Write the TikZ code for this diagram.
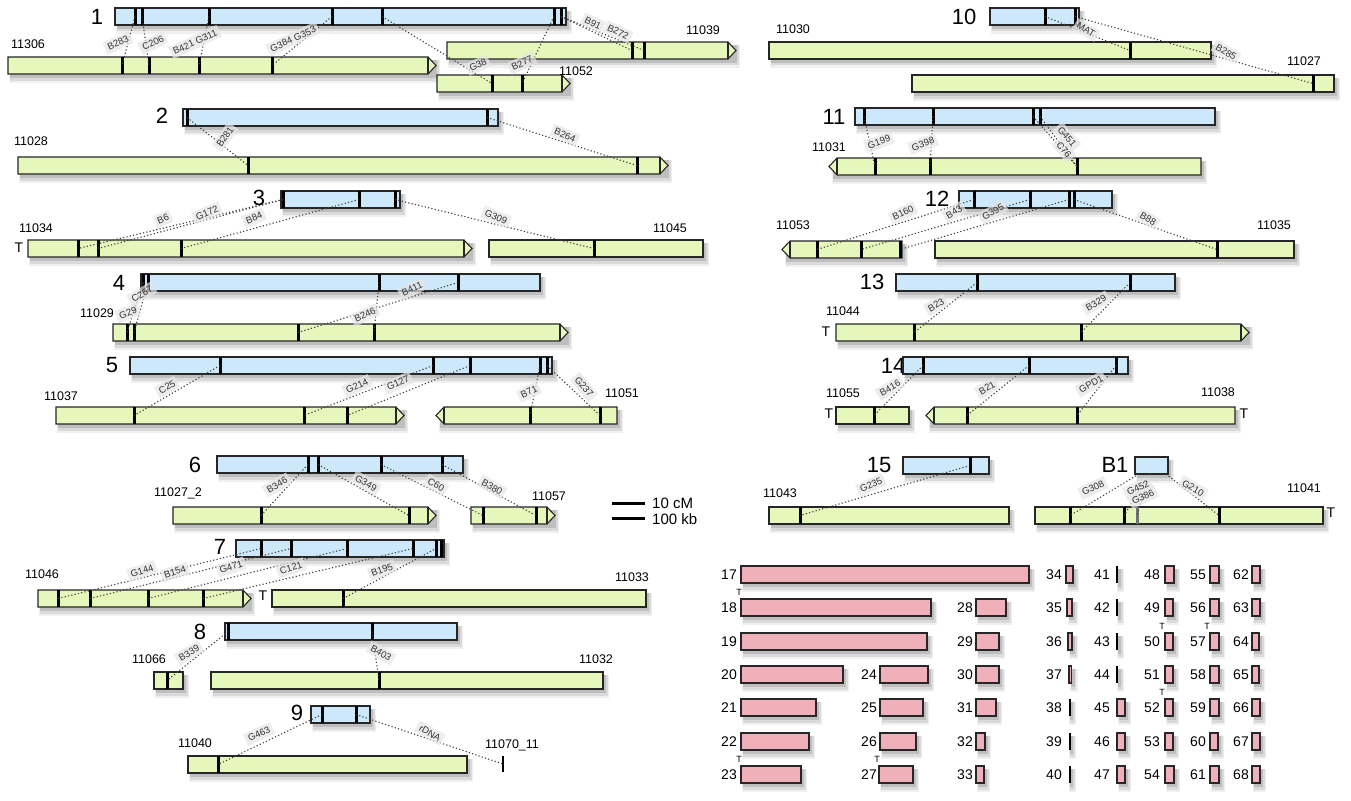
\documentclass[tikz,border=0pt]{standalone}
\usepackage{fontspec}
\setmainfont{Liberation Sans}
\definecolor{bfill}{RGB}{204,232,250}
\definecolor{gfill}{RGB}{230,247,188}
\definecolor{pfill}{RGB}{240,176,186}
\tikzset{
  sh1/.style={fill=black,opacity=0.06},
  sh2/.style={fill=black,opacity=0.09},
  sh3/.style={fill=black,opacity=0.13},
  bbar/.style={fill=bfill,draw=black!85,line width=1.1pt},
  gbar/.style={fill=gfill,draw=black!85,line width=1.1pt},
  pbar/.style={fill=pfill,draw=black!85,line width=1.1pt},
  edgeln/.style={draw=black!85,line width=1.1pt},
  mkln/.style={line width=3pt,black},
  thinln/.style={line width=2pt,black},
  conn/.style={line width=1.1pt,black!75,dash pattern=on 1.2pt off 2.2pt},
  mlab/.style={font=\fontsize{9.5}{10}\selectfont,text=black!80,fill=black!10,fill opacity=0.7,text opacity=1,inner sep=3pt},
  clab/.style={font=\fontsize{12.5}{12.5}\selectfont,inner sep=0pt},
  gnum/.style={font=\fontsize{22}{22}\selectfont,inner sep=0pt},
  tlab/.style={font=\fontsize{14}{14}\selectfont,inner sep=0pt},
  plab/.style={font=\fontsize{14}{14}\selectfont,anchor=east,inner sep=0pt},
  ptl/.style={font=\fontsize{9}{9}\selectfont,inner sep=0pt},
  sclab/.style={font=\fontsize{15}{15}\selectfont,anchor=west,inner sep=0pt},
  scln/.style={line width=3pt,black},
}
% soft shadow: x1, x2, ytop
\newcommand\shdw[3]{%
  \fill[sh1] (#1+1,#3+3) rectangle (#2+6,#3+26);
  \fill[sh2] (#1+2,#3+3) rectangle (#2+4.5,#3+23.5);
  \fill[sh3] (#1+2,#3+3) rectangle (#2+3,#3+21);}
\newcommand\rbar[4]{\shdw{#2}{#3}{#4}\path[#1] (#2,#4) rectangle (#3,#4+17);}
\newcommand\rtip{\rtipx}
\newcommand\rtipx[4]{\shdw{#2}{#3+6}{#4}\path[#1] (#2,#4) -- (#3,#4) -- (#3+8,#4+8.5) -- (#3,#4+17) -- (#2,#4+17) -- cycle; \draw[edgeln] (#3,#4) -- (#3,#4+17);}
\newcommand\ltip[4]{\shdw{#2-6}{#3}{#4}\path[#1] (#3,#4) -- (#2,#4) -- (#2-8,#4+8.5) -- (#2,#4+17) -- (#3,#4+17) -- cycle; \draw[edgeln] (#2,#4) -- (#2,#4+17);}
\newcommand\mk[3]{\coordinate (#1) at (#2,#3+8.5); \draw[mkln] (#2,#3) -- (#2,#3+17);}
\newcommand\ml[5]{\node[mlab,rotate=#4] (#1) at (#2,#3) {#5};}
\newcommand\pbr[6]{\rbar{pbar}{#3}{#4}{#5}\node[plab] (#1) at (#6,#5+8.5) {#2};}

\begin{document}
\begin{tikzpicture}[x=1pt,y=-1pt]
\useasboundingbox (0,0) rectangle (1351,800);

% ---------------- Group 1
\node[gnum] (n1) at (97,17) {1};
\rbar{bbar}{115}{566}{8}
\rtip{gbar}{8}{428}{57}
\rtip{gbar}{447}{728}{42}
\rtip{gbar}{437}{562}{75}
\mk{a1}{135}{8}\mk{a2}{142}{8}\mk{a3}{209}{8}\mk{a4}{332}{8}\mk{a5}{382}{8}\mk{a6}{554}{8}\mk{a7}{561}{8}
\mk{ga1}{122}{57}\mk{ga2}{149}{57}\mk{ga3}{199}{57}\mk{ga4}{272}{57}
\mk{ha1}{632}{42}\mk{ha2}{644}{42}
\mk{ka1}{492}{75}\mk{ka2}{522}{75}
\draw[conn] (a1) -- (ga1);
\draw[conn] (a2) -- (ga2);
\draw[conn] (a3) -- (ga3);
\draw[conn] (a4) -- (ga4);
\draw[conn] (a5) -- (ka1);
\draw[conn] (a6) -- (ka2);
\draw[conn] (a7) -- (ha1);
\draw[conn] (a7) -- (ha2);
\ml{lB283}{118}{43}{25}{B283}
\ml{lC206}{153}{43}{25}{C206}
\ml{lB421}{195}{42}{25}{B421 G311}
\ml{lG384}{293}{39}{25}{G384 G353}
\ml{lG38}{478}{65}{25}{G38}
\ml{lB277}{522}{63}{25}{B277}
\ml{lB91}{593}{23}{-25}{B91}
\ml{lB272}{618}{32}{-25}{B272}
\node[clab] (c11306) at (28,44) {11306};
\node[clab] (c11039) at (703,30) {11039};
\node[clab] (c11052) at (576,71) {11052};

% ---------------- Group 2
\node[gnum] (n2) at (162,116) {2};
\rbar{bbar}{183}{498}{109}
\rtip{gbar}{18}{660}{157}
\mk{b1}{187}{109}\mk{b2}{487}{109}
\mk{c1}{248}{157}\mk{c2}{637}{157}
\draw[conn] (b1) -- (c1);
\draw[conn] (b2) -- (c2);
\ml{lB281}{225}{137}{55}{B281}
\ml{lB264}{565}{135}{-23}{B264}
\node[clab] (c11028) at (31,141) {11028};

% ---------------- Group 3
\node[gnum] (n3) at (259,198) {3};
\rbar{bbar}{281}{400}{191}
\rtip{gbar}{28}{464}{240}
\rbar{gbar}{489}{703}{240}
\mk{d0}{283}{191}\mk{d1}{359}{191}\mk{d2}{395}{191}
\mk{e1}{78}{240}\mk{e2}{98}{240}\mk{e3}{181}{240}
\mk{f1}{594}{240}
\draw[conn] (d0) -- (e1);
\draw[conn] (d0) -- (e2);
\draw[conn] (d1) -- (e3);
\draw[conn] (d2) -- (f1);
\ml{lB6}{163}{219}{23}{B6}
\ml{lG172}{207}{213}{23}{G172}
\ml{lB84}{254}{218}{23}{B84}
\ml{lG309}{496}{217}{-23}{G309}
\node[clab] (c11034) at (36,228) {11034};
\node[tlab] (t3) at (19,248) {T};
\node[clab] (c11045) at (670,228) {11045};

% ---------------- Group 4
\node[gnum] (n4) at (119,283) {4};
\rbar{bbar}{141}{540}{274}
\rtip{gbar}{113}{560}{324}
\mk{p1}{143}{274}\mk{p2}{148}{274}\mk{p3}{379}{274}\mk{p4}{458}{274}
\mk{q1}{127}{324}\mk{q2}{134}{324}\mk{q3}{298}{324}\mk{q4}{374}{324}
\draw[conn] (p1) -- (q1);
\draw[conn] (p2) -- (q2);
\draw[conn] (p4) -- (q3);
\draw[conn] (p3) -- (q4);
\ml{lG29}{128}{313}{20}{G29}
\ml{lC267}{142}{294}{30}{C267}
\ml{lB411}{412}{289}{25}{B411}
\ml{lB246}{365}{315}{25}{B246}
\node[clab] (c11029) at (97,313) {11029};

% ---------------- Group 5
\node[gnum] (n5) at (112,365) {5};
\rbar{bbar}{130}{552}{357}
\rtip{gbar}{56}{396}{407}
\ltip{gbar}{444}{617}{407}
\mk{r1}{220}{357}\mk{r2}{433}{357}\mk{r3}{470}{357}\mk{r4}{540}{357}\mk{r5}{547}{357}
\mk{s1}{134}{407}\mk{s2}{304}{407}\mk{s3}{347}{407}
\mk{t1}{530}{407}\mk{t2}{600}{407}
\draw[conn] (r1) -- (s1);
\draw[conn] (r2) -- (s2);
\draw[conn] (r3) -- (s3);
\draw[conn] (r4) -- (t1);
\draw[conn] (r5) -- (t2);
\ml{lC25}{167}{387}{30}{C25}
\ml{lG214}{357}{386}{25}{G214}
\ml{lG127}{398}{383}{25}{G127}
\ml{lB71}{529}{392}{25}{B71}
\ml{lG237}{584}{387}{-50}{G237}
\node[clab] (c11037) at (61,396) {11037};
\node[clab] (c11051) at (622,393) {11051};

% ---------------- Group 6
\node[gnum] (n6) at (195,465) {6};
\rbar{bbar}{217}{463}{456}
\rtip{gbar}{173}{428}{507}
\rtip{gbar}{471}{547}{507}
\mk{u1}{308}{456}\mk{u2}{318}{456}\mk{u3}{381}{456}\mk{u4}{442}{456}
\mk{v1}{261}{507}\mk{v2}{409}{507}
\mk{w1}{483}{507}\mk{w2}{536}{507}
\draw[conn] (u1) -- (v1);
\draw[conn] (u2) -- (v2);
\draw[conn] (u3) -- (w1);
\draw[conn] (u4) -- (w2);
\ml{lB346}{277}{485}{30}{B346}
\ml{lG349}{366}{483}{-30}{G349}
\ml{lC60}{436}{485}{-30}{C60}
\ml{lB380}{492}{487}{-30}{B380}
\node[clab] (c11027b) at (178,493) {11027\_2};
\node[clab] (c11057) at (549,496) {11057};

% scale bar
\coordinate (sa1) at (612,503); \coordinate (sa2) at (645,503);
\coordinate (sb1) at (612,518); \coordinate (sb2) at (645,518);
\draw[scln] (sa1) -- (sa2);
\draw[scln] (sb1) -- (sb2);
\node[sclab] (s10) at (652,503) {10 cM};
\node[sclab] (s100) at (652,519) {100 kb};

% ---------------- Group 7
\node[gnum] (n7) at (220,547) {7};
\rbar{bbar}{236}{444}{540}
\rtip{gbar}{38}{243}{590}
\rbar{gbar}{272}{646}{590}
\mk{x1}{261}{540}\mk{x2}{291}{540}\mk{x3}{347}{540}\mk{x4}{413}{540}\mk{x5}{436}{540}\mk{x6}{441}{540}
\mk{y1}{58}{590}\mk{y2}{90}{590}\mk{y3}{148}{590}\mk{y4}{203}{590}
\mk{z1}{343}{590}
\draw[conn] (y1) -- (x1);
\draw[conn] (y2) -- (x2);
\draw[conn] (y3) -- (x3);
\draw[conn] (y4) -- (x4);
\draw[conn] (z1) -- (x5);
\ml{lG144}{142}{571}{18}{G144}
\ml{lB154}{175}{572}{18}{B154}
\ml{lG471}{231}{567}{18}{G471}
\ml{lC121}{291}{568}{18}{C121}
\ml{lB195}{382}{570}{20}{B195}
\node[clab] (c11046) at (42,574) {11046};
\node[tlab] (t7) at (263,596) {T};
\node[clab] (c11033) at (632,577) {11033};

% ---------------- Group 8
\node[gnum] (n8) at (200,632) {8};
\rbar{bbar}{225}{457}{623}
\rbar{gbar}{154}{183}{672}
\rbar{gbar}{211}{603}{672}
\mk{A1}{228}{623}\mk{A2}{372}{623}
\mk{B1}{167}{672}
\mk{C1}{379}{672}
\draw[conn] (A1) -- (B1);
\draw[conn] (A2) -- (C1);
\ml{lB339}{189}{653}{30}{B339}
\ml{lB403}{381}{653}{-30}{B403}
\node[clab] (c11066) at (149,659) {11066};
\node[clab] (c11032) at (596,659) {11032};

% ---------------- Group 9
\node[gnum] (n9) at (297,713) {9};
\rbar{bbar}{311}{370}{706}
\rbar{gbar}{188}{467}{756}
\mk{D1}{322}{706}\mk{D2}{356}{706}
\mk{E1}{218}{756}
\coordinate (E2) at (503,764);
\draw[line width=1.2pt,black] (503,756) -- (503,772);
\draw[conn] (D1) -- (E1);
\draw[conn] (D2) -- (E2);
\ml{lG463}{259}{734}{25}{G463}
\ml{lrDNA}{430}{733}{-30}{rDNA}
\node[clab] (c11040) at (195,743) {11040};
\node[clab] (c11070) at (512,745) {11070\_11};

% ---------------- Group 10
\node[gnum] (n10) at (964,17) {10};
\rbar{bbar}{990}{1079}{8}
\rbar{gbar}{769}{1211}{42}
\rbar{gbar}{912}{1334}{75}
\mk{F1}{1045}{8}\mk{F2}{1075}{8}
\mk{G1}{1130}{42}
\mk{H1}{1313}{75}
\draw[conn] (F1) -- (G1);
\draw[conn] (F2) -- (H1);
\ml{lMAT}{1086}{30}{-30}{MAT}
\ml{lB285}{1226}{52}{-30}{B285}
\node[clab] (c11030) at (793,29) {11030};
\node[clab] (c11027) at (1304,61) {11027};

% ---------------- Group 11
\node[gnum] (n11) at (834,117) {11};
\rbar{bbar}{855}{1215}{108}
\ltip{gbar}{837}{1201}{158}
\mk{I1}{864}{108}\mk{I2}{933}{108}\mk{I3}{1033}{108}\mk{I4}{1040}{108}
\mk{J1}{875}{158}\mk{J2}{930}{158}\mk{J3}{1077}{158}
\draw[conn] (I1) -- (J1);
\draw[conn] (I2) -- (J2);
\draw[conn] (I3) -- (J3);
\draw[conn] (I4) -- (J3);
\ml{lG199}{879}{142}{20}{G199}
\ml{lG398}{923}{144}{20}{G398}
\ml{lG451}{1067}{137}{-50}{G451}
\ml{lC76}{1064}{150}{-50}{C76}
\node[clab] (c11031) at (829,147) {11031};

% ---------------- Group 12
\node[gnum] (n12) at (937,199) {12};
\rbar{bbar}{959}{1112}{191}
\ltip{gbar}{790}{902}{241}
\rbar{gbar}{935}{1294}{241}
\mk{K1}{974}{191}\mk{K2}{1030}{191}\mk{K3}{1069}{191}\mk{K4}{1074}{191}
\mk{L1}{817}{241}\mk{L2}{861}{241}\mk{L3}{900}{241}
\mk{M1}{1217}{241}
\draw[conn] (K1) -- (L1);
\draw[conn] (K2) -- (L2);
\draw[conn] (K3) -- (L3);
\draw[conn] (K4) -- (M1);
\ml{lB160}{903}{213}{25}{B160}
\ml{lB43}{954}{212}{30}{B43}
\ml{lG395}{993}{212}{30}{G395}
\ml{lB88}{1148}{219}{-30}{B88}
\node[clab] (c11053) at (793,225) {11053};
\node[clab] (c11035) at (1274,225) {11035};

% ---------------- Group 13
\node[gnum] (n13) at (872,282) {13};
\rbar{bbar}{896}{1175}{274}
\rtip{gbar}{836}{1241}{324}
\mk{N1}{977}{274}\mk{N2}{1130}{274}
\mk{O1}{914}{324}\mk{O2}{1081}{324}
\draw[conn] (N1) -- (O1);
\draw[conn] (N2) -- (O2);
\ml{lB23}{936}{305}{30}{B23}
\ml{lB329}{1096}{303}{30}{B329}
\node[clab] (c11044) at (843,311) {11044};
\node[tlab] (t13) at (826,332) {T};

% ---------------- Group 14
\node[gnum] (n14) at (893,366) {14};
\rbar{bbar}{903}{1128}{357}
\rbar{gbar}{836}{909}{407}
\ltip{gbar}{934}{1235}{407}
\mk{P1}{923}{357}\mk{P2}{1029}{357}\mk{P3}{1116}{357}
\mk{Q1}{874}{407}
\mk{R1}{967}{407}\mk{R2}{1077}{407}
\draw[conn] (P1) -- (Q1);
\draw[conn] (P2) -- (R1);
\draw[conn] (P3) -- (R2);
\ml{lB416}{890}{388}{30}{B416}
\ml{lB21}{987}{388}{30}{B21}
\ml{lGPD1}{1091}{384}{30}{GPD1}
\node[clab] (c11055) at (843,393) {11055};
\node[tlab] (t14a) at (829,414) {T};
\node[clab] (c11038) at (1218,392) {11038};
\node[tlab] (t14b) at (1244,414) {T};

% ---------------- Group 15
\node[gnum] (n15) at (879,465) {15};
\rbar{bbar}{903}{989}{457}
\rbar{gbar}{769}{1009}{507}
\mk{S1}{970}{457}
\mk{T1}{800}{507}
\draw[conn] (S1) -- (T1);
\ml{lG235}{871}{485}{25}{G235}
\node[clab] (c11043) at (780,493) {11043};

% ---------------- B1
\node[gnum] (nB1) at (1115,465) {B1};
\rbar{bbar}{1135}{1168}{457}
\coordinate (Ua) at (1139,474);
\coordinate (Ub) at (1149,474);
\coordinate (Uc) at (1166,474);
\rbar{gbar}{1035}{1323}{507}
\mk{V1}{1070}{507}\mk{V2}{1124}{507}
\draw[line width=3pt,black!55] (1137,507) -- (1137,524); \coordinate (V3) at (1137,515.5);
\mk{V4}{1219}{507}
\draw[conn] (Ua) -- (V1);
\draw[conn] (Ub) -- (V2);
\draw[conn] (Ub) -- (V3);
\draw[conn] (Uc) -- (V4);
\ml{lG308}{1093}{488}{25}{G308}
\ml{lG452}{1138}{488}{25}{G452}
\ml{lG386}{1143}{497}{25}{G386}
\ml{lG210}{1193}{488}{-30}{G210}
\node[clab] (c11041) at (1304,488) {11041};
\node[tlab] (tB1) at (1331,513) {T};

% ---------------- pink bars
% column 1
\pbr{p17}{17}{741}{1029}{566}{737}
\pbr{p18}{18}{741}{931}{599}{737}
\pbr{p19}{19}{741}{927}{633}{737}
\pbr{p20}{20}{741}{843}{666}{737}
\pbr{p21}{21}{741}{816}{699}{737}
\pbr{p22}{22}{741}{809}{733}{737}
\pbr{p23}{23}{741}{801}{766}{737}
% column 2
\pbr{p24}{24}{880}{928}{666}{877}
\pbr{p25}{25}{880}{923}{699}{877}
\pbr{p26}{26}{880}{916}{733}{877}
\pbr{p27}{27}{879}{913}{766}{877}
% column 3
\pbr{p28}{28}{976}{1006}{599}{973}
\pbr{p29}{29}{976}{999}{633}{973}
\pbr{p30}{30}{976}{999}{666}{973}
\pbr{p31}{31}{976}{996}{699}{973}
\pbr{p32}{32}{976}{985}{733}{973}
\pbr{p33}{33}{976}{984}{766}{973}
% column 4
\pbr{p34}{34}{1066}{1073}{566}{1062}
\pbr{p35}{35}{1067}{1072}{599}{1062}
\pbr{p36}{36}{1068}{1072}{633}{1062}
\pbr{p37}{37}{1069}{1071.5}{666}{1062}
\shdw{1068}{1070}{699}\draw[thinln] (1069.5,699) -- (1069.5,716); \node[plab] (p38) at (1062,707.5) {38};
\shdw{1068}{1070}{733}\draw[thinln] (1069.5,733) -- (1069.5,750); \node[plab] (p39) at (1062,741.5) {39};
\shdw{1068}{1070}{766}\draw[thinln] (1069.5,766) -- (1069.5,783); \node[plab] (p40) at (1062,774.5) {40};
% column 5
\shdw{1116}{1118}{566}\draw[thinln] (1117,566) -- (1117,583); \node[plab] (p41) at (1110,574.5) {41};
\shdw{1116}{1118}{599}\draw[thinln] (1117,599) -- (1117,616); \node[plab] (p42) at (1110,607.5) {42};
\shdw{1116}{1118}{633}\draw[thinln] (1117,633) -- (1117,650); \node[plab] (p43) at (1110,641.5) {43};
\shdw{1116}{1118}{666}\draw[thinln] (1117,666) -- (1117,683); \node[plab] (p44) at (1110,674.5) {44};
\pbr{p45}{45}{1117}{1125}{699}{1110}
\pbr{p46}{46}{1117}{1125}{733}{1110}
\pbr{p47}{47}{1117}{1125}{766}{1110}
% column 6
\pbr{p48}{48}{1165}{1174}{566}{1160}
\pbr{p49}{49}{1165}{1173}{599}{1160}
\pbr{p50}{50}{1165}{1173}{633}{1160}
\pbr{p51}{51}{1165}{1173}{666}{1160}
\pbr{p52}{52}{1165}{1173}{699}{1160}
\pbr{p53}{53}{1165}{1173}{733}{1160}
\pbr{p54}{54}{1165}{1174}{766}{1160}
% column 7
\pbr{p55}{55}{1210}{1219}{566}{1206}
\pbr{p56}{56}{1210}{1219}{599}{1206}
\pbr{p57}{57}{1210}{1219}{633}{1206}
\pbr{p58}{58}{1210}{1219}{666}{1206}
\pbr{p59}{59}{1210}{1219}{699}{1206}
\pbr{p60}{60}{1210}{1218}{733}{1206}
\pbr{p61}{61}{1210}{1219}{766}{1206}
% column 8
\pbr{p62}{62}{1252}{1260}{566}{1249}
\pbr{p63}{63}{1252}{1260}{599}{1249}
\pbr{p64}{64}{1252}{1259}{633}{1249}
\pbr{p65}{65}{1252}{1259}{666}{1249}
\pbr{p66}{66}{1252}{1260}{699}{1249}
\pbr{p67}{67}{1252}{1260}{733}{1249}
\pbr{p68}{68}{1252}{1260}{766}{1249}
% small T marks
\node[ptl] (pt18) at (739,592) {T};
\node[ptl] (pt23) at (739,759) {T};
\node[ptl] (pt27) at (877,759) {T};
\node[ptl] (pt50) at (1162,626) {T};
\node[ptl] (pt52) at (1162,692) {T};
\node[ptl] (pt57) at (1207,626) {T};
\end{tikzpicture}
\end{document}
